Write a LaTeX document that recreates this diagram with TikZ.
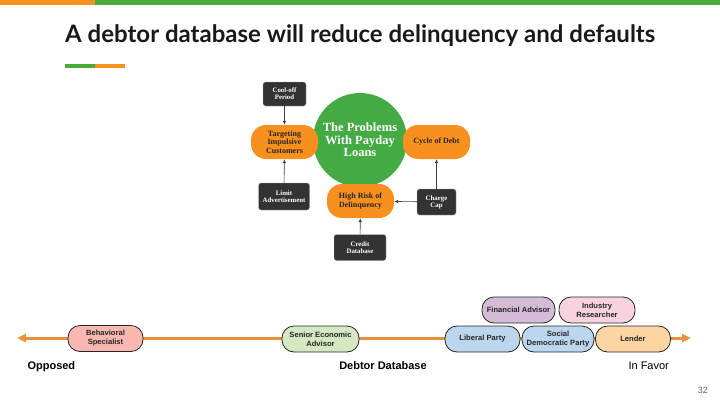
\documentclass[tikz,border=0pt]{standalone}
\usepackage{fontspec}
\setmainfont{Liberation Serif}
\setsansfont{Liberation Sans}
\newfontfamily\titlefont{Lato}
\usetikzlibrary{arrows.meta}
\definecolor{topgreen}{HTML}{4AAA3C}
\definecolor{toporange}{HTML}{F7931E}
\definecolor{cgreen}{HTML}{44AA44}
\definecolor{corange}{HTML}{F7901E}
\definecolor{dbox}{HTML}{333333}
\definecolor{lineor}{HTML}{E8923A}
\definecolor{pinkA}{HTML}{F8B8B0}
\definecolor{greenA}{HTML}{D5E8C2}
\definecolor{blueA}{HTML}{BCD6EE}
\definecolor{purpA}{HTML}{D4BCD6}
\definecolor{pinkB}{HTML}{F9D2E0}
\definecolor{orA}{HTML}{FCD5A2}
\tikzset{
  orbox/.style={fill=corange, rounded corners=15pt, minimum height=34pt, align=center,
     font=\rmfamily\bfseries\fontsize{8}{8.3}\selectfont, text=black!85, inner sep=1pt},
  dkbox/.style={fill=dbox, rounded corners=2.5pt, align=center, draw=gray!60, line width=0.3pt,
     font=\rmfamily\bfseries\fontsize{6.8}{7}\selectfont, text=white, inner sep=1pt},
  arr/.style={-{Latex[length=4pt,width=3.5pt]}, line width=0.6pt, draw=black!75},
  pill/.style={draw=black!85, line width=0.8pt, rounded corners=12pt, minimum height=26pt,
     minimum width=75pt, align=center, font=\sffamily\bfseries\fontsize{7.6}{9}\selectfont,
     text=black!85, inner sep=0.5pt},
  lbl/.style={font=\sffamily\bfseries\fontsize{11}{12}\selectfont, anchor=base west}
}
\begin{document}
\begin{tikzpicture}[x=1pt,y=-1pt]
\useasboundingbox (0,0) rectangle (720,405);
\fill[white] (0,0) rectangle (720,405);
% top bar
\fill[toporange] (0,0) rectangle (95,5);
\fill[topgreen] (95,0) rectangle (720,5);
% title
\node[anchor=base west, inner sep=0, font=\titlefont\bfseries\fontsize{24}{26}\selectfont, text=black!90] (title) at (65,42) {A debtor database will reduce delinquency and defaults};
\fill[topgreen] (65,64) rectangle (95,68);
\fill[toporange] (95,64) rectangle (125,68);
% diagram
\node[circle, fill=cgreen, minimum size=94pt, inner sep=0, align=center, text=white,
  font=\rmfamily\bfseries\fontsize{12.5}{12.5}\selectfont] (core) at (360,140) {The Problems\\With Payday\\Loans};
\node[orbox, minimum width=67pt] (target) at (284.5,142) {Targeting\\Impulsive\\Customers};
\node[orbox, minimum width=67pt] (cycle) at (436.5,142) {Cycle of Debt};
\node[orbox, minimum width=67pt] (risk) at (360.5,201) {High Risk of\\Delinquency};
\node[dkbox, minimum width=43pt, minimum height=24pt] (cool) at (284.5,94) {Cool-off\\Period};
\node[dkbox, minimum width=51pt, minimum height=27pt] (limit) at (284,196.5) {Limit\\Advertisement};
\node[dkbox, minimum width=39pt, minimum height=26pt] (cap) at (436.5,202) {Charge\\Cap};
\node[dkbox, minimum width=52pt, minimum height=26pt] (credit) at (360,247.5) {Credit\\Database};
\draw[arr] (cool) -- (target);
\draw[arr] (limit) -- (target);
\draw[arr] (cap) -- (cycle);
\draw[arr] (cap) -- (risk);
\draw[arr] (credit) -- (risk);
% spectrum
\coordinate (lend) at (17,338);
\coordinate (rend) at (691,338);
\draw[lineor, line width=3pt, {Triangle[length=9pt,width=8pt]}-{Triangle[length=9pt,width=8pt]}] (lend) -- (rend);
\node[pill, fill=pinkA] (beh) at (105.5,338.5) {Behavioral\\Specialist};
\node[pill, fill=greenA, minimum width=77pt] (sen) at (320.5,339) {Senior Economic\\Advisor};
\node[pill, fill=blueA] (lib) at (482.5,339) {Liberal Party};
\node[pill, fill=blueA, minimum width=72pt] (soc) at (558,339) {Social\\Democratic Party};
\node[pill, fill=orA] (lend2) at (633,339) {Lender};
\node[pill, fill=purpA, minimum width=73pt] (fin) at (518.5,310) {Financial Advisor};
\node[pill, fill=pinkB, minimum width=76pt] (ind) at (597,310) {Industry\\Researcher};
\node[lbl] (opp) at (24,369) {Opposed};
\node[lbl, anchor=base] (deb) at (383,369) {Debtor Database};
\node[lbl, anchor=base west, font=\sffamily\fontsize{11}{12}\selectfont] (fav) at (625,369) {In Favor};
\node[anchor=base east, font=\sffamily\fontsize{9}{10}\selectfont, text=black!60, inner sep=0] (pg) at (708,393) {32};
\end{tikzpicture}
\end{document}
